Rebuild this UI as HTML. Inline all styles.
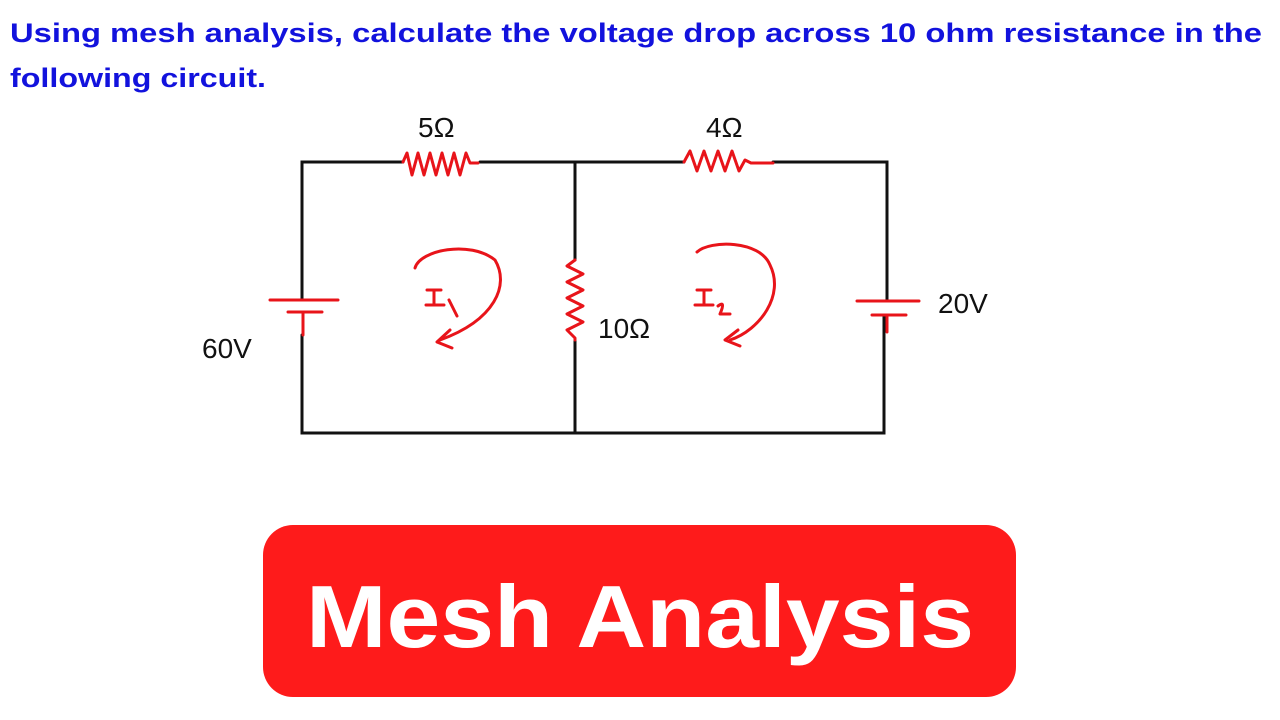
<!DOCTYPE html>
<html><head><meta charset="utf-8"><style>
html,body{margin:0;padding:0;background:#fff;width:1280px;height:720px;overflow:hidden}
</style></head><body>
<svg width="1280" height="720" viewBox="0 0 1280 720" xmlns="http://www.w3.org/2000/svg">
<rect width="1280" height="720" fill="#fff"/>
<g font-family="'Liberation Sans',sans-serif" font-weight="bold" fill="#1212dd" font-size="27">
<text x="10" y="42" textLength="1252" lengthAdjust="spacingAndGlyphs">Using mesh analysis, calculate the voltage drop across 10 ohm resistance in the</text>
<text x="10" y="87" textLength="256" lengthAdjust="spacingAndGlyphs">following circuit.</text>
</g>
<g stroke="#111" stroke-width="3" fill="none" stroke-linecap="round">
<path d="M403 162 H302 V300"/>
<path d="M302 335 V433 H884 V315"/>
<path d="M480 162 H575 V260"/>
<path d="M575 340 V433"/>
<path d="M575 162 H684"/>
<path d="M773 162 H887 V301"/>
</g>
<g stroke="#e8141a" stroke-width="3" fill="none" stroke-linecap="round" stroke-linejoin="round">
<path d="M403 162 l4 -9 l5 22 l6 -22 l6 22 l6 -22 l6 22 l6 -22 l6 22 l6 -22 l6 22 l6 -22 l4 10 h8"/>
<path d="M684 162 l6 -11 l7 20 l7 -20 l7 20 l7 -20 l7 20 l7 -20 l7 20 l6 -11 l6 3 h22"/>
<path d="M575 260 l-8 6 l16 8 l-16 8 l16 8 l-16 8 l16 8 l-16 8 l16 8 l-16 8 l8 8 v2"/>
<path d="M270 300 H338 M288 312 H322 M303 312 V335"/>
<path d="M857 301 H919 M872 315 H906 M887 315 V332"/>
<path d="M415 268 C420 250 470 240 495 260 C510 285 495 320 440 340"/>
<path d="M450 330 L437 342 L452 348"/>
<path d="M697 252 C710 240 760 240 770 265 C785 295 760 330 730 340"/>
<path d="M738 330 L725 340 L740 346"/>
<path d="M427 290 H441 M434 290 V305 M426 305 H444 M449 300 L457 316"/>
<path d="M697 290 H711 M704 290 V305 M695 305 H713 M718 306 Q726 300 720 314 H730"/>
</g>
<g fill="#111" font-family="'Liberation Sans',sans-serif" font-size="28">
<text x="418" y="137">5Ω</text>
<text x="706" y="137">4Ω</text>
<text x="598" y="338">10Ω</text>
<text x="202" y="358">60V</text>
<text x="938" y="313">20V</text>
</g>
<rect x="263" y="525" width="753" height="172" rx="30" fill="#fe1b1b"/>
<text x="640" y="647" text-anchor="middle" fill="#fff" font-family="'Liberation Sans',sans-serif" font-weight="bold" font-size="88" textLength="668" lengthAdjust="spacingAndGlyphs">Mesh Analysis</text>
</svg>
</body></html>
